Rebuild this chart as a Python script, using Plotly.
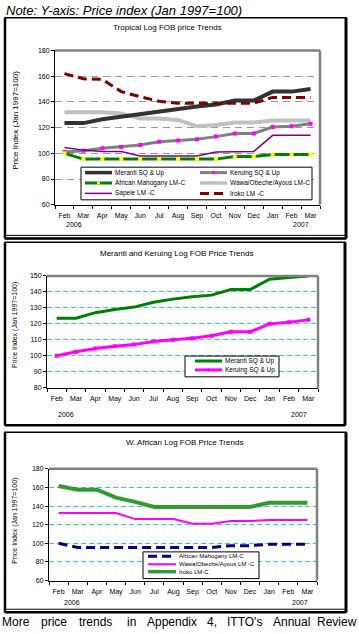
import plotly.graph_objects as go

W, H = 359, 634
FONT = "Liberation Sans, Arial, sans-serif"

def px(x):
    return x / W

def py(y):
    return 1 - y / H

# ---------------- data ----------------
months = ["Feb", "Mar", "Apr", "May", "Jun", "Jul", "Aug", "Sep", "Oct", "Nov", "Dec", "Jan", "Feb", "Mar"]
years = ["2006", "2007"]

# Panel 1: Tropical Log FOB price Trends
meranti1 = [123.5, 123.5, 126.5, 128.5, 130.5, 133, 135, 136.5, 138, 141, 141, 148, 148, 150]
keruing1 = [101, 102, 104, 105, 106.5, 109, 110, 111, 113, 115.5, 115.5, 120.5, 121, 123]
mahog1 = [100, 95.5, 95.5, 95.5, 95.5, 95.5, 95.5, 95.5, 95.5, 97.5, 97.5, 99, 99, 99]
wawa1 = [132, 132, 132, 131, 127, 127, 126, 121, 122, 124, 124, 125.5, 125.5, 125.5]
sapele1 = [104.5, 102.5, 101.5, 101.5, 98, 98, 98, 98, 101, 101.5, 101.5, 114, 114, 114]
iroko1 = [162, 158, 157.5, 148, 144, 140.5, 139, 139, 139, 139, 139, 143.5, 143.5, 143.5]

# Panel 2: Meranti and Keruing
meranti2 = [123.5, 123.5, 127, 129, 130.5, 133.5, 135.5, 137, 138, 141.5, 141.5, 148, 149, 150]
keruing2 = [100, 102.5, 104.5, 106, 107, 109, 110, 111, 112.5, 115, 115, 120, 121, 122.5]

# Panel 3: W. African
mahog3 = [100, 95.5, 95.5, 95.5, 95.5, 95.5, 95.5, 95.5, 95.5, 97.5, 97.5, 99, 99, 99]
wawa3 = [132.5, 132.5, 132.5, 132.5, 126, 126, 126, 121, 121, 124, 124, 125, 125, 125]
iroko3 = [161.5, 157.5, 157.5, 149, 144.5, 139, 139, 139, 139, 139, 139, 143.5, 143.5, 143.5]

xs = list(range(len(months)))

fig = go.Figure()

# ---------------- series styles ----------------
p1 = [
    dict(name="Meranti SQ & Up", y=meranti1, color="#333333", width=4, dash="solid", mk=None),
    dict(name="Keruing SQ & Up", y=keruing1, color="#808080", width=3, dash="solid", mk="#FF00FF"),
    dict(name="African Mahogany LM-C", y=mahog1, color="#008000", width=3, dash="solid", mk="#FFFF00"),
    dict(name="Wawa/Obeche/Ayous LM-C", y=wawa1, color="#C0C0C0", width=4, dash="solid", mk=None),
    dict(name="Sapele LM -C", y=sapele1, color="#800080", width=1.5, dash="solid", mk=None),
    dict(name="Iroko LM -C", y=iroko1, color="#800000", width=3, dash="9px,5px", mk=None),
]
p2 = [
    dict(name="Meranti SQ & Up", y=meranti2, color="#008000", width=3, dash="solid", mk=None),
    dict(name="Keruing SQ & Up", y=keruing2, color="#FF00FF", width=3, dash="solid", mk="#FF00FF"),
]
p3 = [
    dict(name="African Mahogany LM-C", y=mahog3, color="#000080", width=3, dash="9px,5px", mk=None),
    dict(name="Wawa/Obeche/Ayous LM -C", y=wawa3, color="#FF00FF", width=2, dash="solid", mk=None),
    dict(name="Iroko LM-C", y=iroko3, color="#339933", width=4, dash="solid", mk=None),
]

draw_order1 = [3, 0, 1, 4, 2, 5]
for i in draw_order1:
    s = p1[i]
    fig.add_trace(go.Scatter(
        x=xs, y=s["y"], name=s["name"], xaxis="x", yaxis="y",
        mode="lines+markers" if s["mk"] else "lines",
        line=dict(color=s["color"], width=s["width"], dash=s["dash"]),
        marker=dict(symbol="square", size=4, color=s["mk"]) if s["mk"] else None,
        showlegend=False))
for s in p2:
    fig.add_trace(go.Scatter(
        x=xs, y=s["y"], name=s["name"], xaxis="x2", yaxis="y2",
        mode="lines+markers" if s["mk"] else "lines",
        line=dict(color=s["color"], width=s["width"], dash=s["dash"]),
        marker=dict(symbol="square", size=4, color=s["mk"]) if s["mk"] else None,
        showlegend=False))
for s in p3:
    fig.add_trace(go.Scatter(
        x=xs, y=s["y"], name=s["name"], xaxis="x3", yaxis="y3",
        mode="lines",
        line=dict(color=s["color"], width=s["width"], dash=s["dash"]),
        showlegend=False))

# ---------------- axes ----------------
def xaxis(l, r, anchor):
    return dict(domain=[px(l), px(r)], range=[-0.5, len(months) - 0.5], anchor=anchor,
                tickmode="array", tickvals=xs, ticktext=months,
                ticks="outside", ticklen=4, tickcolor="rgba(0,0,0,0)",
                showline=True, linecolor="black", linewidth=1,
                showgrid=False, zeroline=False,
                tickfont=dict(family=FONT, size=7, color="black"),
                minor=dict(tickmode="array", tickvals=[i - 0.5 for i in range(len(months) + 1)],
                           ticks="outside", ticklen=3, tickcolor="black", tickwidth=1, showgrid=False),
                fixedrange=True)

def yaxis(t, b, rng, step, anchor, gridcolor, griddash):
    return dict(domain=[py(b), py(t)], range=rng, anchor=anchor,
                tickmode="array", tickvals=list(range(rng[0], rng[1] + 1, step)),
                ticks="outside", ticklen=3, tickcolor="black",
                showline=True, linecolor="black", linewidth=1,
                showgrid=True, gridcolor=gridcolor, griddash=griddash, gridwidth=1,
                zeroline=False, tickfont=dict(family=FONT, size=7, color="black"),
                fixedrange=True)

P1 = dict(l=55, r=320, t=47, b=203)
P2 = dict(l=47, r=318, t=275, b=388)
P3 = dict(l=49, r=317, t=470, b=583)

fig.update_layout(
    xaxis=xaxis(P1["l"], P1["r"], "y"),
    yaxis=yaxis(P1["t"], P1["b"], [60, 180], 20, "x", "#999999", "7px,5px"),
    xaxis2=xaxis(P2["l"], P2["r"], "y2"),
    yaxis2=yaxis(P2["t"], P2["b"], [80, 150], 10, "x2", "#33CCCC", "5px,3px"),
    xaxis3=xaxis(P3["l"], P3["r"], "y3"),
    yaxis3=yaxis(P3["t"], P3["b"], [60, 180], 20, "x3", "#33CCCC", "5px,3px"),
)

shapes = []
annotations = []

# plot-area gray top/right borders
for ax in ["", "2", "3"]:
    xr, yr = f"x{ax} domain", f"y{ax} domain"
    shapes.append(dict(type="line", xref=xr, yref=yr, x0=0, x1=1, y0=1, y1=1,
                       line=dict(color="#808080", width=2.5), layer="above"))
    shapes.append(dict(type="line", xref=xr, yref=yr, x0=1, x1=1, y0=0, y1=1,
                       line=dict(color="#808080", width=2.5), layer="above"))

# panel frames
def frame(x0, y0, x1, y1, double_bottom):
    shapes.append(dict(type="rect", xref="paper", yref="paper", x0=px(x0), x1=px(x1),
                       y0=py(y1), y1=py(y0), line=dict(color="black", width=1.5), layer="above"))
    shapes.append(dict(type="line", xref="paper", yref="paper", x0=px(x0), x1=px(x0),
                       y0=py(y1), y1=py(y0), line=dict(color="black", width=2.5)))
    shapes.append(dict(type="line", xref="paper", yref="paper", x0=px(x1), x1=px(x1),
                       y0=py(y1), y1=py(y0), line=dict(color="black", width=3)))
    shapes.append(dict(type="line", xref="paper", yref="paper", x0=px(x0), x1=px(x1),
                       y0=py(y1), y1=py(y1), line=dict(color="black", width=2.5)))
    if double_bottom:
        shapes.append(dict(type="line", xref="paper", yref="paper", x0=px(x0), x1=px(x1),
                           y0=py(y1 - 3), y1=py(y1 - 3), line=dict(color="black", width=1)))

frame(5, 14, 346, 237, True)
frame(5, 241, 345, 426, False)
frame(5, 433, 346, 615, True)

# titles
def text(x, y, s, size=7, xanchor="center", angle=0):
    annotations.append(dict(xref="paper", yref="paper", x=px(x), y=py(y), text=s,
                            showarrow=False, xanchor=xanchor, yanchor="middle", textangle=angle,
                            font=dict(family=FONT, size=size, color="black"),
                            borderpad=0))

text(5, 7, "<i>Note: Y-axis: Price index (Jan 1997=100)</i>", size=13, xanchor="left")
text(167, 24, "Tropical Log FOB price Trends", size=8)
text(176, 252, "Meranti and Keruing Log FOB Price Trends", size=8)
text(184, 443, "W. African Log FOB Price Trends", size=8)

ytitle = "Price Index (Jan 1997=100)"
text(16, 118, ytitle, size=8, angle=-90)
text(15.5, 325, ytitle, size=7, angle=-90)
text(15.5, 523, ytitle, size=7, angle=-90)

# year labels below axes
for xr, yy, xa, xb in [("x", 223, 0.5, 12.5), ("x2", 415, 0.5, 12.5), ("x3", 605, 0.7, 12.6)]:
    annotations.append(dict(xref=xr, yref="paper", x=xa, y=py(yy), text=years[0], showarrow=False,
                            font=dict(family=FONT, size=7, color="black"), yanchor="middle"))
    annotations.append(dict(xref=xr, yref="paper", x=xb, y=py(yy), text=years[1], showarrow=False,
                            font=dict(family=FONT, size=7, color="black"), yanchor="middle"))

# manual legends
def legend_box(x0, y0, x1, y1):
    shapes.append(dict(type="rect", xref="paper", yref="paper", x0=px(x0), x1=px(x1),
                       y0=py(y1), y1=py(y0), line=dict(color="black", width=1),
                       fillcolor="white", layer="above"))

def legend_entry(s, x0, x1, y, fsize=6):
    w = min(s["width"], 3.5)
    shapes.append(dict(type="line", xref="paper", yref="paper", x0=px(x0), x1=px(x1),
                       y0=py(y), y1=py(y), line=dict(color=s["color"], width=w, dash=s["dash"]),
                       layer="above"))
    if s["mk"]:
        xm = (x0 + x1) / 2
        shapes.append(dict(type="rect", xref="paper", yref="paper", x0=px(xm - 1.5), x1=px(xm + 1.5),
                           y0=py(y + 1.5), y1=py(y - 1.5), line=dict(width=0),
                           fillcolor=s["mk"], layer="above"))
    annotations.append(dict(xref="paper", yref="paper", x=px(x1 + 1), y=py(y), text=s["name"],
                            showarrow=False, xanchor="left", yanchor="middle",
                            font=dict(family=FONT, size=fsize, color="black")))

legend_box(81, 165, 312, 198)
rows1 = [170.5, 181, 191.5]
for i, s in enumerate(p1):
    col, row = i % 2, i // 2
    x0 = 85 if col == 0 else 200
    legend_entry(s, x0, x0 + 27, rows1[row], fsize=6.5)

legend_box(185, 356, 279, 377)
for i, s in enumerate(p2):
    legend_entry(s, 195, 222, [361, 370][i], fsize=6.5)

legend_box(143, 554, 259, 581)
for i, s in enumerate(p3):
    legend_entry(s, 148, 176, [558.5, 566.5, 574][i], fsize=6)

# footer (justified words)
footer = ["More", "price", "trends", "in", "Appendix", "4,", "ITTO's", "Annual", "Review"]
footer_x = [1, 40, 78, 126, 146, 206, 226, 272, 358]
for k, (wtxt, xw) in enumerate(zip(footer, footer_x)):
    text(xw, 625, wtxt, size=12, xanchor="right" if k == len(footer) - 1 else "left")

fig.update_layout(
    width=W, height=H, margin=dict(l=0, r=0, t=0, b=0),
    paper_bgcolor="white", plot_bgcolor="white",
    showlegend=False, shapes=shapes, annotations=annotations,
    font=dict(family=FONT, size=7, color="black"),
)

fig.write_html("out.html", config=dict(displayModeBar=False),
               post_script="document.body.style.margin='0';document.body.style.overflow='hidden';")
